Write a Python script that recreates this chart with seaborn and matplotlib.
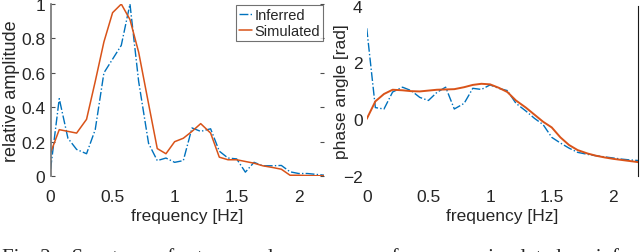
import numpy as np
import pandas as pd
import seaborn as sns
import matplotlib.pyplot as plt

# frequency grid [Hz]
freq = [0.0, 0.07, 0.14, 0.21, 0.29, 0.36, 0.43, 0.50, 0.57, 0.64, 0.71,
        0.79, 0.86, 0.93, 1.0, 1.07, 1.14, 1.21, 1.29, 1.36, 1.43, 1.50,
        1.57, 1.64, 1.71, 1.79, 1.86, 1.93, 2.0, 2.07, 2.14, 2.21]

amp_inferred = [0.04, 0.45, 0.22, 0.155, 0.13, 0.27, 0.60, 0.68, 0.76, 1.0, 0.55,
                0.19, 0.09, 0.105, 0.08, 0.09, 0.28, 0.26, 0.275, 0.145, 0.105, 0.10,
                0.023, 0.08, 0.06, 0.06, 0.062, 0.025, 0.015, 0.015, 0.01, 0.005]
amp_simulated = [0.135, 0.27, 0.26, 0.25, 0.33, 0.55, 0.78, 0.95, 1.0, 0.91, 0.72,
                 0.42, 0.16, 0.13, 0.20, 0.22, 0.26, 0.305, 0.25, 0.11, 0.095, 0.095,
                 0.085, 0.075, 0.06, 0.05, 0.04, 0.005, 0.005, 0.003, 0.002, 0.002]

phase_inferred = [3.2, 0.4, 0.35, 0.95, 1.12, 1.0, 0.76, 0.65, 0.94, 1.12, 0.35,
                  0.55, 1.08, 1.04, 1.2, 1.08, 1.0, 0.55, 0.28, 0.02, -0.2, -0.65,
                  -0.85, -1.03, -1.18, -1.25, -1.3, -1.34, -1.38, -1.42, -1.45, -1.47]
phase_simulated = [0.0, 0.62, 0.88, 1.03, 1.01, 0.98, 0.97, 1.0, 1.03, 1.04, 1.05,
                   1.12, 1.2, 1.24, 1.22, 1.1, 0.95, 0.65, 0.4, 0.15, -0.1, -0.3,
                   -0.65, -0.92, -1.1, -1.22, -1.3, -1.36, -1.41, -1.45, -1.49, -1.53]

amp_ticks = [0, 0.2, 0.4, 0.6, 0.8, 1]
amp_labels = ['0', '0.2', '0.4', '0.6', '0.8', '1']
phase_ticks = [-2, 0, 2, 4]
freq_ticks = [0, 0.5, 1, 1.5, 2]
freq_labels = ['0', '0.5', '1', '1.5', '2']

blue = '#0072BD'
orange = '#D95319'

sns.set_style('white')
plt.rcParams['font.family'] = ['Liberation Sans', 'DejaVu Sans']

fig = plt.figure(figsize=(6.4, 2.53), dpi=100)
ax1 = fig.add_axes([0.079, 0.300, 0.4265, 0.680])
ax2 = fig.add_axes([0.573, 0.302, 0.424, 0.672])

# amplitude
sns.lineplot(x=freq, y=amp_inferred, ax=ax1, color=blue, linestyle='-.', linewidth=1.0, label='Inferred')
sns.lineplot(x=freq, y=amp_simulated, ax=ax1, color=orange, linewidth=1.1, label='Simulated')
ax1.set_xlim(0, 2.2)
ax1.set_ylim(0, 1)
ax1.set_yticks(amp_ticks, amp_labels)
ax1.set_xticks(freq_ticks, freq_labels)
ax1.set_xlabel('frequency [Hz]', fontsize=12.5, labelpad=3)
ax1.set_ylabel('relative amplitude', fontsize=13)
ax1.yaxis.set_label_coords(-0.112, 0.5)
for s in ['top', 'right', 'bottom']:
    ax1.spines[s].set_visible(False)
ax1.spines['left'].set_color('0.45')
ax1.spines['left'].set_linewidth(1.2)
ax1.tick_params(axis='y', direction='in', length=3, labelsize=12.5, right=True, left=True,
                pad=4, color='0.3')
ax1.tick_params(axis='x', bottom=False, labelsize=12.5, pad=6)
leg = ax1.legend(loc='upper right', bbox_to_anchor=(1.0, 1.0), fontsize=10.5, frameon=True,
                 handlelength=0.9, handletextpad=0.15, borderpad=0.2, labelspacing=0.15,
                 borderaxespad=0.05, fancybox=False)
leg.get_frame().set_edgecolor('0.3')
leg.get_frame().set_linewidth(0.8)

# phase
sns.lineplot(x=freq, y=phase_inferred, ax=ax2, color=blue, linestyle='-.', linewidth=1.0)
sns.lineplot(x=freq, y=phase_simulated, ax=ax2, color=orange, linewidth=1.4)
ax2.set_xlim(0, 2.2)
ax2.set_ylim(-2, 4)
ax2.set_yticks(phase_ticks)
ax2.set_xticks(freq_ticks, freq_labels)
ax2.set_xlabel('frequency [Hz]', fontsize=12.5, labelpad=3)
ax2.set_ylabel('phase angle [rad]', fontsize=12.5)
ax2.yaxis.set_label_coords(-0.065, 0.5)
for s in ['top', 'left', 'bottom']:
    ax2.spines[s].set_visible(False)
ax2.spines['right'].set_color('0.1')
ax2.tick_params(axis='y', direction='in', length=0, labelsize=12.5, pad=3)
ax2.tick_params(axis='x', bottom=False, labelsize=12.5, pad=6)

# caption, cut off at the bottom edge as in the source
fig.text(0.003, -0.038, 'Fig. 2.   Spectrum of rotor speed ω    response from u    : simulated vs. inferred',
         fontsize=15, family=['Liberation Serif', 'DejaVu Serif'], ha='left', va='baseline')

fig.savefig('out.png', dpi=100)
